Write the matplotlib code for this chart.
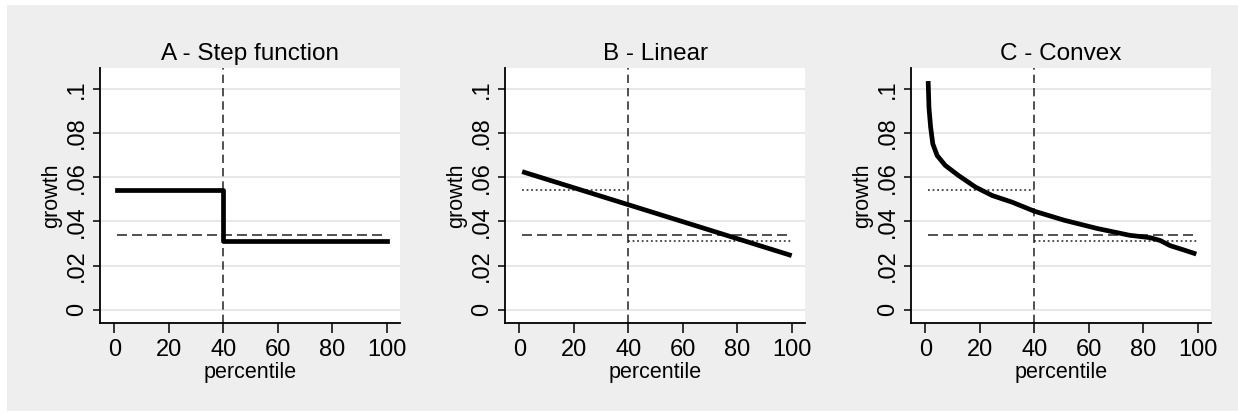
import matplotlib
matplotlib.use("Agg")
import matplotlib.pyplot as plt
from matplotlib.patches import Rectangle

plt.rcParams['font.family'] = ['Liberation Sans', 'DejaVu Sans']

# ---- data ----
titles = ["A - Step function", "B - Linear", "C - Convex"]
cutoff = 40
mean_growth = 0.0338
below_mean = 0.054   # average growth below cutoff
above_mean = 0.031   # average growth above cutoff

step_pct = [1, 40, 100]
step_growth = [0.054, 0.031, 0.031]

linear_pct = [1, 100]
linear_growth = [0.0625, 0.0245]

convex_pct = [1, 1.3, 1.9, 2.7, 4.3, 7.3, 12.2, 18.4, 24.5, 31.8, 40, 51, 63, 75,
              82.6, 86.3, 89.9, 94.8, 99.5]
convex_growth = [0.1035, 0.0915, 0.0827, 0.0751, 0.0698, 0.0653, 0.0607, 0.0555, 0.0517,
                 0.0487, 0.0446, 0.0405, 0.0368, 0.0337, 0.0326, 0.0313, 0.0290, 0.0271,
                 0.0252]

xticks = [0, 20, 40, 60, 80, 100]
yticks = [0, 0.02, 0.04, 0.06, 0.08, 0.1]
ytick_labels = ["0", ".02", ".04", ".06", ".08", ".1"]

W, H = 1238, 413
fig = plt.figure(figsize=(W / 100, H / 100), dpi=100)
fig.patch.set_facecolor("white")
fig.patches.append(Rectangle((7 / W, 2 / H), 1 - 7 / W, (H - 7) / H,
                             transform=fig.transFigure, facecolor="#eeeeee",
                             edgecolor="none", zorder=-10))

lefts = [100, 505, 911]
ax_w, ax_top, ax_bot = 300, 68, 323

series = [(step_pct, step_growth), (linear_pct, linear_growth), (convex_pct, convex_growth)]

for i, left in enumerate(lefts):
    ax = fig.add_axes([left / W, (H - ax_bot) / H, ax_w / W, (ax_bot - ax_top) / H])
    ax.set_facecolor("white")
    ax.set_xlim(-5.3, 104.9)
    ax.set_ylim(-0.006, 0.1094)
    for y in yticks:
        ax.axhline(y, color="#e8e8e8", lw=1.5, zorder=0)
    ax.set_xticks(xticks)
    ax.set_xticklabels([str(t) for t in xticks])
    ax.set_yticks(yticks)
    ax.set_yticklabels(ytick_labels, rotation=90, va="center")
    ax.tick_params(axis="both", direction="out", width=1.1, labelsize=17, colors="black")
    ax.tick_params(axis="x", length=7.2, pad=4)
    ax.tick_params(axis="y", length=5, pad=3.5)
    for s in ["top", "right"]:
        ax.spines[s].set_visible(False)
    for s in ["left", "bottom"]:
        ax.spines[s].set_linewidth(1.3)

    ax.set_title(titles[i], fontsize=17.5, pad=6)
    ax.set_xlabel("percentile", fontsize=15.5, labelpad=1)
    ax.set_ylabel("growth", fontsize=15.5, labelpad=3)

    ax.axvline(cutoff, color="#333333", lw=1.2, ls=(0, (5, 3)), zorder=2)
    ax.plot([1, 100], [mean_growth, mean_growth], color="#333333", lw=1.2,
            ls=(0, (6, 3)), zorder=2)
    if i > 0:
        ax.plot([1, cutoff], [below_mean, below_mean], color="#222222", lw=1.1,
                ls=(0, (1.2, 1.8)), zorder=2)
        ax.plot([cutoff, 100], [above_mean, above_mean], color="#222222", lw=1.1,
                ls=(0, (1.2, 1.8)), zorder=2)

    px, gy = series[i]
    if i == 0:
        ax.step(px, gy, where="post", color="black", lw=3.4, zorder=3)
    else:
        ax.plot(px, gy, color="black", lw=3.4, zorder=3, solid_capstyle="butt")

fig.savefig("out.png", dpi=100, facecolor=fig.get_facecolor())
